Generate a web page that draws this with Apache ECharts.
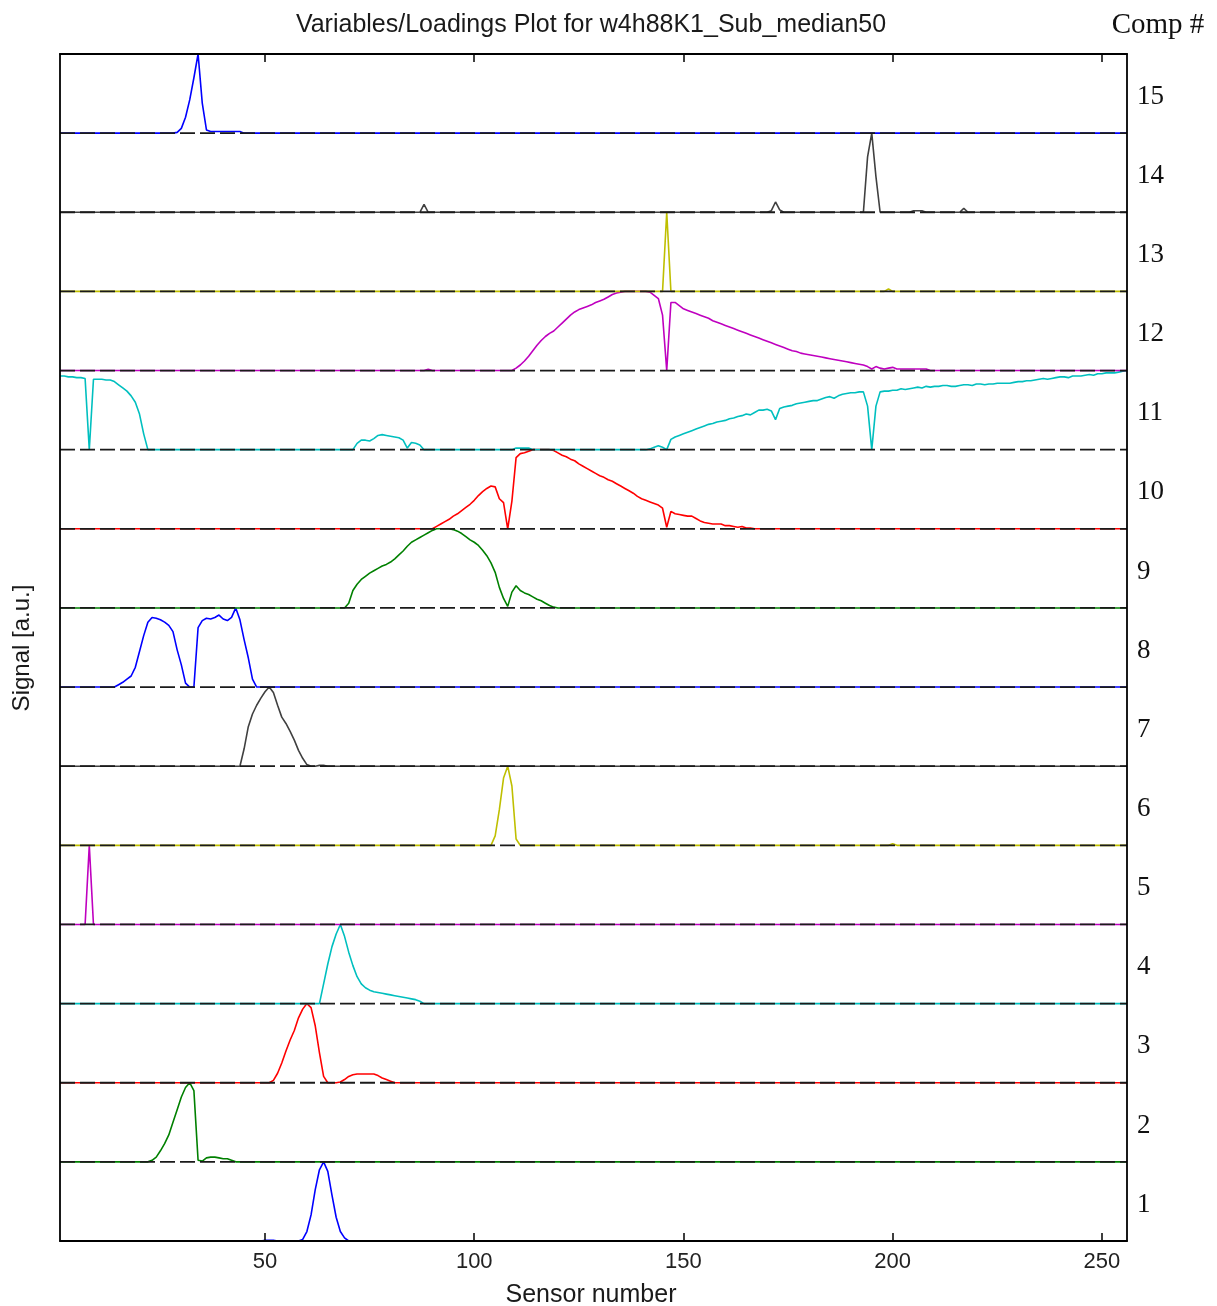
<!DOCTYPE html>
<html>
<head>
<meta charset="utf-8">
<script src="https://cdn.jsdelivr.net/npm/echarts@6/dist/echarts.min.js"></script>
<style>
html,body{margin:0;padding:0;background:#fff;}
#chart{width:1217px;height:1306px;}
</style>
</head>
<body>
<div id="chart"></div>
<script>
// ---- data (normalised loadings per component, segments: [startSensor, values]) ----
const titleText = 'Variables/Loadings Plot for w4h88K1_Sub_median50';
const xTicks = [50, 100, 150, 200, 250];
const compLabels = ['1','2','3','4','5','6','7','8','9','10','11','12','13','14','15'];
const compColors = ['#0000ff','#008000','#ff0000','#00bfbf','#bf00bf','#bfbf00','#404040',
                    '#0000ff','#008000','#ff0000','#00bfbf','#bf00bf','#bfbf00','#404040','#0000ff'];

const comp1 = [[50,[0.01,0.01,0.01]],[58,[0,0.02,0.12,0.33,0.65,0.9,1.0,0.88,0.58,0.3,0.12,0.04,0]]];
const comp2 = [[22,[0,0.02,0.06,0.14,0.23,0.34,0.5,0.66,0.82,0.94,1.0,0.9,0.02,0.01,0.05,0.06,0.06,0.05,0.04,0.04,0.02,0]]];
const comp3 = [[51,[0,0.03,0.12,0.25,0.4,0.54,0.66,0.82,0.93,1.0,0.95,0.72,0.38,0.08,0,0,0,0.01,0.04,0.08,0.1,0.11,0.11,0.11,0.11,0.11,0.09,0.06,0.04,0.02,0]]];
const comp4 = [[63,[0,0.25,0.5,0.72,0.88,1.0,0.85,0.65,0.48,0.34,0.25,0.2,0.17,0.15,0.14,0.13,0.12,0.11,0.1,0.09,0.08,0.07,0.06,0.05,0.03,0]]];
const comp5 = [[7,[0,1.0,0]]];
const comp6 = [[104,[0,0.12,0.45,0.85,1.0,0.75,0.08,0]],[199,[0,0.02,0]]];
const comp7 = [[44,[0,0.22,0.5,0.66,0.77,0.86,0.94,1.0,0.93,0.77,0.62,0.54,0.44,0.33,0.2,0.1,0.02,0,0,0.01,0.01,0]]];
const comp8 = [[14,[0,0.03,0.06,0.1,0.14,0.25,0.45,0.65,0.82,0.88,0.87,0.85,0.82,0.78,0.7,0.47,0.28,0.05,0,0,
                    0.75,0.84,0.87,0.86,0.88,0.91,0.86,0.84,0.88,1.0,0.85,0.6,0.37,0.1,0]]];
const comp9 = [[69,[0,0.06,0.22,0.3,0.36,0.4,0.44,0.47,0.5,0.53,
                    0.55,0.58,0.62,0.67,0.72,0.78,0.83,0.86,0.89,0.92,
                    0.95,0.98,1.0,1.0,1.0,1.0,0.99,0.97,0.94,0.9,
                    0.86,0.83,0.79,0.73,0.66,0.57,0.45,0.26,0.12,0.02,
                    0.2,0.28,0.22,0.19,0.17,0.14,0.11,0.09,0.06,0.03,
                    0.01,0]]];
const comp10 = [[90,[0,0.03,0.06,0.09,0.12,0.16,0.19,0.23,0.27,0.31,
                     0.36,0.42,0.47,0.51,0.54,0.53,0.38,0.33,0.0,0.35,
                     0.9,0.95,0.96,0.98,1.0,1.0,1.0,1.0,1.0,0.99,
                     0.96,0.93,0.91,0.88,0.86,0.82,0.79,0.76,0.73,0.7,
                     0.67,0.65,0.62,0.6,0.57,0.54,0.51,0.48,0.45,0.41,
                     0.38,0.36,0.34,0.32,0.3,0.26,0.02,0.22,0.19,0.18,
                     0.17,0.16,0.16,0.13,0.1,0.08,0.07,0.06,0.06,0.06,
                     0.04,0.04,0.03,0.02,0.03,0.01,0.01,0]]];
const comp11 = [[1,[0.93,0.93,0.92,0.92,0.91,0.91,0.9,0,0.89,0.89,
                    0.89,0.88,0.88,0.86,0.82,0.78,0.74,0.68,0.6,0.45,
                    0.2,0,0]],
                [71,[0,0.08,0.12,0.12,0.11,0.14,0.18,0.19,0.18,0.17,0.16,0.15,0.12,0.02,0.09,0.08,0.06,0]],
                [109,[0,0.02,0.02,0.02,0.02,0]],
                [141,[0,0.01,0.03,0.05,0.03,0,0.13,0.16,0.18,0.2,
                      0.22,0.24,0.26,0.28,0.3,0.32,0.33,0.35,0.36,0.37,
                      0.39,0.4,0.42,0.43,0.45,0.44,0.47,0.5,0.5,0.51,
                      0.49,0.38,0.52,0.54,0.55,0.56,0.58,0.59,0.6,0.61,
                      0.62,0.62,0.64,0.66,0.67,0.65,0.68,0.7,0.71,0.72,
                      0.72,0.73,0.73,0.55,0,0.55,0.73,0.74,0.74,0.75,
                      0.75,0.77,0.76,0.77,0.78,0.79,0.78,0.8,0.79,0.8,
                      0.8,0.81,0.81,0.8,0.8,0.81,0.82,0.82,0.81,0.83,
                      0.83,0.82,0.83,0.83,0.84,0.84,0.84,0.84,0.85,0.86,
                      0.86,0.87,0.87,0.88,0.89,0.9,0.89,0.9,0.91,0.92,
                      0.92,0.91,0.93,0.93,0.93,0.94,0.95,0.94,0.96,0.96,
                      0.97,0.97,0.97,0.98,0.99,1.0]]];
const comp12 = [[88,[0,0.015,0]],
                [109,[0,0.03,0.07,0.12,0.18,0.25,0.32,0.38,0.43,0.47,
                      0.5,0.55,0.6,0.65,0.7,0.74,0.77,0.79,0.81,0.83,
                      0.86,0.88,0.9,0.93,0.96,0.98,0.99,1.0,1.0,1.0,
                      1.0,1.0,1.0,0.99,0.95,0.91,0.7,0.0,0.86,0.86,
                      0.82,0.78,0.76,0.74,0.72,0.7,0.68,0.66,0.63,0.61,
                      0.59,0.57,0.55,0.53,0.51,0.49,0.47,0.45,0.43,0.41,
                      0.39,0.37,0.35,0.33,0.31,0.29,0.27,0.25,0.24,0.22,
                      0.21,0.2,0.19,0.18,0.17,0.16,0.15,0.14,0.13,0.12,
                      0.11,0.1,0.09,0.08,0.07,0.05,0.02,0.05,0.03,0.02,
                      0.03,0.04,0.02,0.02,0.02,0.02,0.02,0.02,0.02,0.02,
                      0]]];
const comp13 = [[145,[0,1.0,0]],[198,[0,0.03,0]]];
const comp14 = [[87,[0,0.1,0]],[170,[0,0.02,0.13,0.03,0]],[193,[0,0.7,1.0,0.45,0]],[204,[0,0.02,0.02,0.02,0]],[216,[0,0.05,0]]];
const comp15 = [[28,[0,0.01,0.06,0.2,0.42,0.7,1.0,0.38,0.04,0.02,0.02,0.02,0.02,0.02,0.02,0.02,0.02,0]]];

const components = [comp1,comp2,comp3,comp4,comp5,comp6,comp7,comp8,comp9,comp10,comp11,comp12,comp13,comp14,comp15];
const nSensors = 256;

// ---- build series ----
function expand(segs){
  const arr = new Array(nSensors).fill(0);
  segs.forEach(([start, vals]) => vals.forEach((v, i) => { arr[start - 1 + i] = v; }));
  return arr;
}
const series = [];
components.forEach((segs, k) => {
  const vals = expand(segs);
  series.push({
    type: 'line', name: compLabels[k], showSymbol: false, silent: true, z: 2,
    data: vals.map((v, i) => [i + 1, k + v]),
    lineStyle: { color: compColors[k], width: 1.6 },
    itemStyle: { color: compColors[k] }
  });
});
for (let k = 1; k < 15; k++) {
  series.push({
    type: 'line', showSymbol: false, silent: true, z: 5,
    data: [[1, k], [nSensors, k]],
    lineStyle: { color: '#1a1a1a', width: 1.8, type: [15, 5] }
  });
}
const labelPositions = compLabels.map((_, i) => i + 0.5);

const chart = echarts.init(document.getElementById('chart'), null, { renderer: 'canvas' });
const tickCommon = { show: true, inside: true, length: 8, lineStyle: { color: '#000', width: 1.5 }, customValues: xTicks };
chart.setOption({
  animation: false,
  backgroundColor: '#fff',
  grid: { left: 60, right: 90, top: 54, bottom: 65, containLabel: false },
  xAxis: [
    { type: 'value', min: 1, max: nSensors, position: 'bottom', z: 10,
      axisLine: { show: true, onZero: false, lineStyle: { color: '#000', width: 1.8 } },
      axisTick: tickCommon,
      axisLabel: { show: true, customValues: xTicks, color: '#222', fontSize: 22, fontFamily: 'Liberation Sans, Arial, sans-serif', margin: 10 },
      splitLine: { show: false } },
    { type: 'value', min: 1, max: nSensors, position: 'top', z: 10,
      axisLine: { show: true, onZero: false, lineStyle: { color: '#000', width: 1.8 } },
      axisTick: tickCommon,
      axisLabel: { show: false },
      splitLine: { show: false } }
  ],
  yAxis: [
    { type: 'value', min: 0, max: 15, position: 'left', z: 10,
      axisLine: { show: true, onZero: false, lineStyle: { color: '#000', width: 1.8 } },
      axisTick: { show: false }, axisLabel: { show: false }, splitLine: { show: false } },
    { type: 'value', min: 0.04, max: 15.04, position: 'right', z: 10,
      axisLine: { show: true, onZero: false, lineStyle: { color: '#000', width: 1.8 } },
      axisTick: { show: false }, splitLine: { show: false },
      axisLabel: { show: true, customValues: labelPositions, margin: 10, color: '#111', fontSize: 27,
        fontFamily: 'Liberation Serif, Times New Roman, serif',
        formatter: v => compLabels[Math.round(v - 0.5)] } }
  ],
  series: series,
  graphic: [
    { type: 'text', x: 591, y: 25, silent: true,
      style: { text: titleText, fill: '#1a1a1a', fontSize: 25, fontFamily: 'Liberation Sans, Arial, sans-serif', align: 'center', verticalAlign: 'middle' } },
    { type: 'text', x: 1158, y: 25, silent: true,
      style: { text: 'Comp #', fill: '#111', fontSize: 29, fontFamily: 'Liberation Serif, Times New Roman, serif', align: 'center', verticalAlign: 'middle' } },
    { type: 'text', x: 591, y: 1295, silent: true,
      style: { text: 'Sensor number', fill: '#1a1a1a', fontSize: 25, fontFamily: 'Liberation Sans, Arial, sans-serif', align: 'center', verticalAlign: 'middle' } },
    { type: 'text', x: 22, y: 648, rotation: Math.PI / 2, silent: true,
      style: { text: 'Signal [a.u.]', fill: '#1a1a1a', fontSize: 24, fontFamily: 'Liberation Sans, Arial, sans-serif', align: 'center', verticalAlign: 'middle' } }
  ]
});
</script>
</body>
</html>
